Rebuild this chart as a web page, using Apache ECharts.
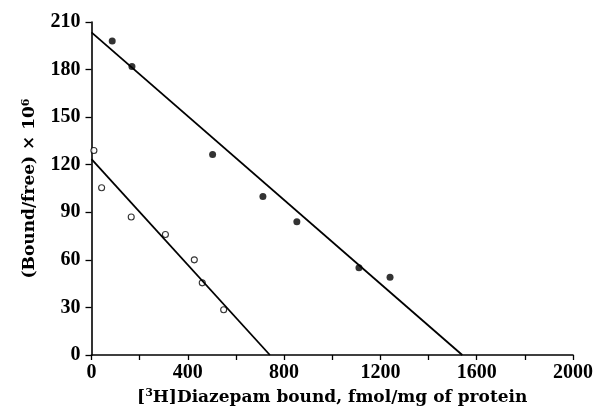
<!DOCTYPE html>
<html>
<head>
<meta charset="utf-8">
<script src="https://cdn.jsdelivr.net/npm/echarts@6/dist/echarts.min.js"></script>
<style>
  html, body { margin: 0; padding: 0; background: #fff; }
  #scatchard { width: 599px; height: 411px; }
</style>
</head>
<body>
<div id="scatchard"></div>
<script>
// filled circles
var filledX = [86, 168, 503, 712, 853, 1111, 1240];
var filledY = [198, 182, 126.5, 100, 84, 55, 49];
// open circles
var openX = [10, 42, 165, 307, 427, 460, 549];
var openY = [129, 105.5, 87, 76, 60, 45.5, 28.5];
// fitted lines (end points)
var filledFitX = [0, 1540];
var filledFitY = [203.5, 0];
var openFitX = [0, 741];
var openFitY = [123.5, 0];

var xTicks = [0, 400, 800, 1200, 1600, 2000];

var pairs = function (xs, ys) {
    var out = [];
    for (var i = 0; i < xs.length; i++) out.push([xs[i], ys[i]]);
    return out;
};

var tickFont = {
    fontFamily: 'Liberation Serif',
    fontWeight: 'bold',
    fontSize: 20,
    color: '#000'
};
var nameFont = {
    fontFamily: 'DejaVu Serif',
    fontWeight: 'bold',
    fontSize: 17,
    color: '#000'
};

var myChart = echarts.init(document.getElementById('scatchard'));
var option = {
    backgroundColor: '#fff',
    animation: false,
    grid: {
        left: 91.5,
        right: 26,
        top: 22,
        bottom: 56,
        containLabel: false,
        outerBoundsMode: 'none'
    },
    xAxis: {
        type: 'value',
        min: 0,
        max: 2000,
        interval: 200,
        splitLine: { show: false },
        axisLine: { onZero: false, lineStyle: { color: '#000', width: 1.6 } },
        axisTick: { inside: false, length: 5, lineStyle: { color: '#000', width: 1.3 } },
        axisLabel: Object.assign({
            margin: 8,
            formatter: function (v) { return xTicks.indexOf(v) >= 0 ? String(v) : ''; }
        }, tickFont),
        name: '[{sup|3}H]Diazepam bound, fmol/mg of protein',
        nameLocation: 'middle',
        nameGap: 30,
        nameTextStyle: Object.assign({
            rich: { sup: { fontFamily: 'DejaVu Serif', fontWeight: 'bold', fontSize: 11, verticalAlign: 'top', padding: [0, 0, 8, 0] } }
        }, nameFont)
    },
    yAxis: {
        type: 'value',
        min: 0,
        max: 210,
        interval: 30,
        splitLine: { show: false },
        axisLine: { onZero: false, lineStyle: { color: '#000', width: 1.6 } },
        axisTick: { inside: false, length: 6, lineStyle: { color: '#000', width: 1.3 } },
        axisLabel: Object.assign({ margin: 11 }, tickFont),
        name: '(Bound/free) \u00d7 10{sup|6}',
        nameLocation: 'middle',
        nameGap: 52,
        nameTextStyle: Object.assign({
            rich: { sup: { fontFamily: 'DejaVu Serif', fontWeight: 'bold', fontSize: 11, verticalAlign: 'top', padding: [0, 0, 8, 0] } }
        }, nameFont)
    },
    series: [
        {
            name: 'filled fit',
            type: 'line',
            data: pairs(filledFitX, filledFitY),
            symbol: 'none',
            lineStyle: { color: '#000', width: 1.8 },
            silent: true
        },
        {
            name: 'open fit',
            type: 'line',
            data: pairs(openFitX, openFitY),
            symbol: 'none',
            lineStyle: { color: '#000', width: 1.8 },
            silent: true
        },
        {
            name: 'filled',
            type: 'scatter',
            data: pairs(filledX, filledY),
            symbol: 'circle',
            symbolSize: 7,
            itemStyle: { color: '#000' }
        },
        {
            name: 'open',
            type: 'scatter',
            data: pairs(openX, openY),
            symbol: 'circle',
            symbolSize: 6,
            itemStyle: { color: '#fff', borderColor: '#000', borderWidth: 1.1 }
        }
    ]
};
myChart.setOption(option);
</script>
</body>
</html>
